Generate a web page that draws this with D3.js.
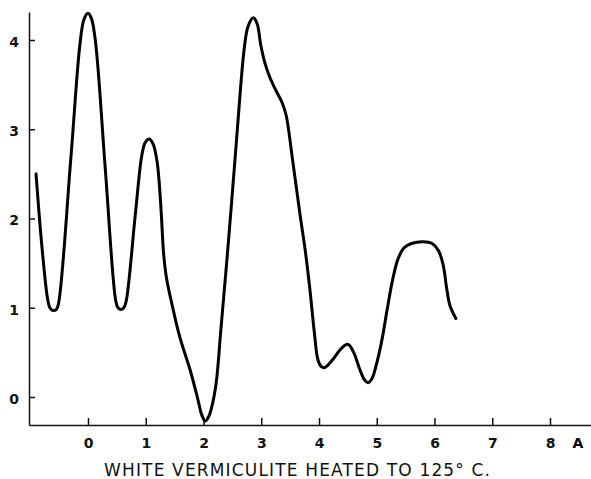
<!DOCTYPE html>
<html lang="en">
<head>
<meta charset="utf-8">
<title>White Vermiculite</title>
<script src="https://d3js.org/d3.v7.min.js"></script>
<style>
  body { margin: 0; background: #fff; }
  .axis path, .axis line { stroke: #111; stroke-width: 1.5; }
  .axis text { font-family: "DejaVu Sans", sans-serif; font-weight: bold; font-size: 14px; fill: #111; }
  .title { font-family: "DejaVu Sans", sans-serif; font-size: 17px; fill: #111; }
</style>
</head>
<body>
<div id="chart"></div>
<script>
const width = 591;
const height = 479;

// distance (A) along the bottom, density
const xTicks = [0, 1, 2, 3, 4, 5, 6, 7, 8];
const yTicks = [0, 1, 2, 3, 4];
const xUnit = "A";
const title = "WHITE VERMICULITE HEATED TO 125\u00B0 C.";

const traceX = [
  -0.90, -0.80, -0.70, -0.66, -0.61, -0.55, -0.51,
  -0.30, -0.14, -0.07, 0.00, 0.06, 0.13, 0.30, 0.48, 0.52, 0.57, 0.62, 0.66,
  0.82, 0.93, 0.99, 1.06, 1.13, 1.20, 1.26, 1.31, 1.36,
  1.45, 1.59, 1.77, 1.90, 1.97, 2.03, 2.09, 2.14,
  2.22, 2.30, 2.42, 2.55, 2.64, 2.71, 2.77, 2.86, 2.93, 2.99, 3.06, 3.15, 3.25, 3.36, 3.43,
  3.55, 3.67, 3.76, 3.84, 3.92, 3.98, 4.04, 4.10, 4.24, 4.38, 4.50, 4.60, 4.70, 4.79, 4.85,
  4.92, 5.00, 5.09, 5.18, 5.28, 5.37, 5.47, 5.60, 5.80, 5.96, 6.07, 6.15, 6.21, 6.27, 6.37
];
const traceY = [
  2.50, 1.70, 1.10, 1.00, 0.97, 0.98, 1.05,
  2.65, 3.95, 4.23, 4.30, 4.24, 3.98, 2.55, 1.08, 1.00, 0.98, 1.00, 1.07,
  2.05, 2.70, 2.85, 2.89, 2.83, 2.62, 2.15, 1.60, 1.33,
  1.05, 0.67, 0.30, -0.02, -0.20, -0.27, -0.22, -0.12,
  0.16, 0.75, 1.65, 2.70, 3.45, 3.93, 4.15, 4.25, 4.18, 3.95, 3.75, 3.58, 3.44, 3.30, 3.16,
  2.62, 2.05, 1.65, 1.22, 0.72, 0.42, 0.34, 0.33, 0.42, 0.54, 0.59, 0.50, 0.32, 0.19, 0.16,
  0.21, 0.38, 0.64, 0.98, 1.33, 1.55, 1.67, 1.72, 1.74, 1.72, 1.64, 1.48, 1.22, 1.02, 0.88
];

const svg = d3.select("#chart").append("svg")
    .attr("width", width)
    .attr("height", height);

const xScale = d3.scaleLinear().domain([0, 8]).range([88, 550]);
const yScale = d3.scaleLinear().domain([0, 4]).range([397, 40]);

// axis lines run past the tick range, to the frame edges
const plotLeft = 29, plotRight = 591, plotTop = 12, plotBottom = 425;
const xAxisScale = xScale.copy().domain([xScale.invert(plotLeft), xScale.invert(plotRight)]).range([plotLeft, plotRight]);
const yAxisScale = yScale.copy().domain([yScale.invert(plotBottom), yScale.invert(plotTop)]).range([plotBottom, plotTop]);

const xaxis = d3.axisBottom(xAxisScale)
    .tickValues(xTicks)
    .tickFormat(d3.format("d"))
    .tickSizeInner(-7)
    .tickSizeOuter(0)
    .tickPadding(13);

const yaxis = d3.axisLeft(yAxisScale)
    .tickValues(yTicks)
    .tickFormat(d3.format("d"))
    .tickSizeInner(-6)
    .tickSizeOuter(0)
    .tickPadding(10);

svg.append("g")
    .attr("class", "axis")
    .attr("transform", "translate(0," + plotBottom + ")")
    .call(xaxis);

svg.append("g")
    .attr("class", "axis")
    .attr("transform", "translate(" + plotLeft + ",0)")
    .call(yaxis)
    .selectAll("text")
    .attr("dy", "0.45em");

svg.append("text")
    .attr("x", 578)
    .attr("y", plotBottom + 13)
    .attr("dy", "0.71em")
    .attr("text-anchor", "middle")
    .style("font-family", "DejaVu Sans, sans-serif")
    .style("font-weight", "bold")
    .style("font-size", "14px")
    .text(xUnit);

const data = traceX.map(function(x, i) { return { x: x, y: traceY[i] }; });

const line = d3.line()
    .x(function(d) { return xScale(d.x); })
    .y(function(d) { return yScale(d.y); })
    .curve(d3.curveCatmullRom.alpha(0.5));

svg.append("path")
    .datum(data)
    .attr("fill", "none")
    .attr("stroke", "#000")
    .attr("stroke-width", 3)
    .attr("stroke-linecap", "round")
    .attr("stroke-linejoin", "round")
    .attr("d", line);

svg.append("text")
    .attr("class", "title")
    .attr("x", 104)
    .attr("y", 476)
    .attr("textLength", 386)
    .attr("lengthAdjust", "spacing")
    .text(title);
</script>
</body>
</html>
